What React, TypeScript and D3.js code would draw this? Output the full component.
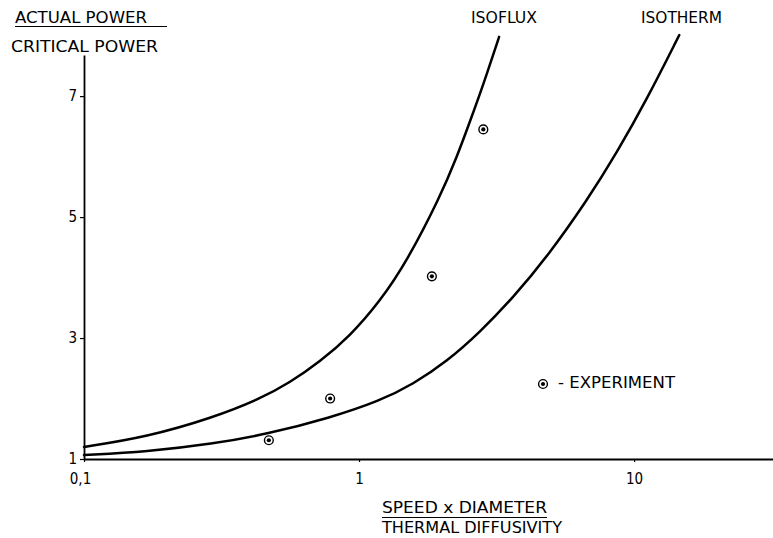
import React, { useEffect, useRef } from 'react';
import * as d3 from 'd3';

const W = 773;
const H = 538;

// curves (x = speed*diameter/diffusivity, y = actual/critical power)
const isofluxX = [0.1, 0.169, 0.292, 0.436, 0.561, 0.722, 0.927, 1.19, 1.495, 1.972, 2.27, 2.53, 2.83, 3.23];
const isofluxY = [1.2, 1.364, 1.678, 1.992, 2.264, 2.612, 3.033, 3.603, 4.273, 5.337, 5.998, 6.579, 7.19, 7.98];
const isothermX = [0.1, 0.169, 0.294, 0.462, 0.785, 1.19, 1.57, 2.09, 2.75, 3.63, 4.83, 6.75, 8.67, 11.15, 14.6];
const isothermY = [1.066, 1.119, 1.25, 1.41, 1.681, 1.962, 2.235, 2.617, 3.096, 3.669, 4.344, 5.277, 6.071, 6.955, 8.01];

// experiment points
const expX = [0.47, 0.785, 1.84, 2.83];
const expY = [1.31, 2.0, 4.02, 6.45];

const xTicks = [0.1, 1, 10];
const xTickLabels = ['0,1', '1', '10'];
const yTicks = [1, 3, 5, 7];

const FONT = "'DejaVu Sans Condensed', 'DejaVu Sans', sans-serif";

const App = () => {
  const ref = useRef(null);

  useEffect(() => {
    draw();
  }, []);

  const draw = () => {
    const svg = d3.select(ref.current);
    svg.selectAll('*').remove();

    const x = d3.scaleLog().domain([0.1, Math.pow(10, 1.505)]).range([84, 773]);
    const y = d3.scaleLinear().domain([1, 7.68]).range([459, 55]);

    // axes
    const yAxis = d3.axisLeft(y).tickValues(yTicks).tickSize(4).tickSizeOuter(0).tickFormat(d3.format('d'));
    const gy = svg.append('g').attr('transform', 'translate(84,0)').call(yAxis);
    gy.select('.domain').attr('stroke', '#000').attr('stroke-width', 1.8);
    gy.selectAll('.tick line').attr('stroke', '#000').attr('stroke-width', 1.2);
    gy.selectAll('.tick text')
      .attr('font-family', FONT).attr('font-size', 15).attr('fill', '#000').attr('x', -7);

    const xAxis = d3.axisBottom(x).tickValues(xTicks).tickSize(3).tickSizeOuter(0)
      .tickFormat((d, i) => xTickLabels[i]);
    const gx = svg.append('g').attr('transform', 'translate(0,459)').call(xAxis);
    gx.select('.domain').attr('stroke', '#000').attr('stroke-width', 1.8);
    gx.selectAll('.tick line').attr('stroke', '#000').attr('stroke-width', 1.2);
    gx.selectAll('.tick text')
      .attr('font-family', FONT).attr('font-size', 15).attr('fill', '#000').attr('y', 14);
    gx.selectAll('.tick text').filter((d, i) => i === 0).attr('dx', -4);

    // curves
    const line = d3.line().x(d => x(d[0])).y(d => y(d[1])).curve(d3.curveBasis);
    const curves = [
      d3.zip(isofluxX, isofluxY),
      d3.zip(isothermX, isothermY),
    ];
    curves.forEach(c => {
      svg.append('path')
        .attr('d', line(c))
        .attr('fill', 'none')
        .attr('stroke', '#000')
        .attr('stroke-width', 2.5)
        .attr('stroke-linecap', 'round');
    });

    // experiment markers
    const marker = (cx, cy) => {
      svg.append('circle').attr('cx', cx).attr('cy', cy).attr('r', 4.4)
        .attr('fill', '#fff').attr('stroke', '#000').attr('stroke-width', 1.4);
      svg.append('circle').attr('cx', cx).attr('cy', cy).attr('r', 2.1).attr('fill', '#000');
    };
    expX.forEach((v, i) => marker(x(v), y(expY[i])));
    marker(543, 384);

    // labels
    const label = (t, lx, ly, len) => {
      svg.append('text')
        .attr('x', lx).attr('y', ly)
        .attr('font-family', FONT).attr('font-size', 15)
        .attr('textLength', len).attr('lengthAdjust', 'spacingAndGlyphs')
        .attr('fill', '#000')
        .text(t);
    };
    label('ACTUAL POWER', 15, 23, 132);
    label('CRITICAL POWER', 11, 52, 147);
    label('ISOFLUX', 471, 23, 66);
    label('ISOTHERM', 641, 23, 81);
    label('- EXPERIMENT', 558, 388, 117);
    label('SPEED x DIAMETER', 382, 513, 165);
    label('THERMAL DIFFUSIVITY', 382, 533, 180);

    svg.append('line').attr('x1', 15).attr('x2', 167).attr('y1', 26.5).attr('y2', 26.5)
      .attr('stroke', '#000').attr('stroke-width', 1.2);
    svg.append('line').attr('x1', 382).attr('x2', 547).attr('y1', 517.5).attr('y2', 517.5)
      .attr('stroke', '#000').attr('stroke-width', 1.2);
  };

  return (
    <svg ref={ref} width={W} height={H}
      style={{ position: 'absolute', left: 0, top: 0, background: '#fff' }} />
  );
};

export default App;
